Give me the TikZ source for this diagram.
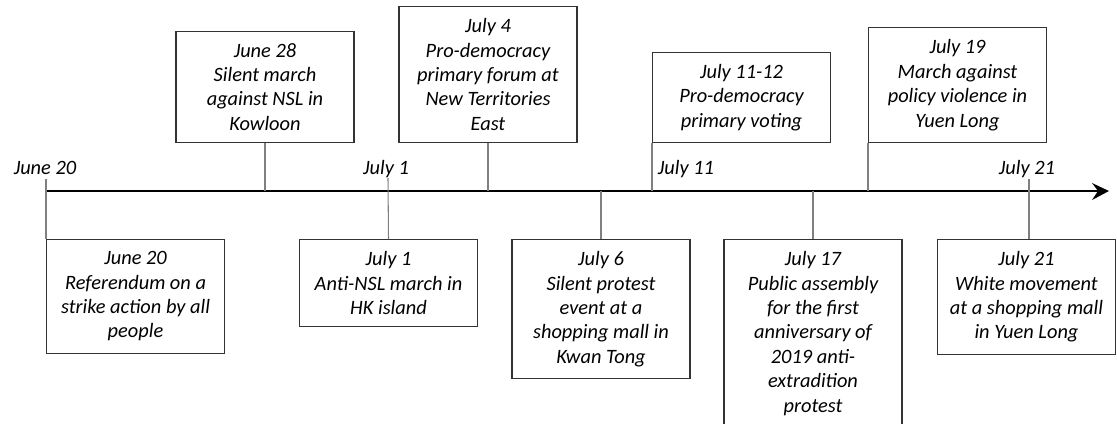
\documentclass[tikz,border=0pt]{standalone}
\usepackage{fontspec}
\setmainfont{Carlito}
\begin{document}
\begin{tikzpicture}[scale=0.2]
\tikzstyle{every node}+=[font=\fontsize{11.6}{13.9}\selectfont\itshape]
\tikzstyle{event}=[draw=black!80, line width=0.6pt, minimum width=3.56cm, align=center, inner xsep=2pt, inner ysep=6.8pt]
\tikzstyle{stem}=[black!50, line width=0.6pt]
\useasboundingbox (0,0) rectangle (111.7,-42.3);
\clip (0,0) rectangle (111.7,-42.3);
% time axis
\coordinate (axisstart) at (4.5,-19.1);
\coordinate (axisend) at (109.8,-19.1);
\draw [black, line width=1.7pt] (axisstart) -- (axisend);
\fill [black] (110.9,-19.1) -- (109.2,-18.3) -- (109.8,-19.1) -- (109.2,-20) -- cycle;
% dates on the axis
\node [anchor=base] (d0620) at (4.5,-17.4) {June 20};
\node [anchor=base] (d0701) at (38.6,-17.4) {July 1};
\node [anchor=base] (d0711) at (68.6,-17.4) {July 11};
\node [anchor=base] (d0721) at (102.7,-17.4) {July 21};
\coordinate (t0620) at (4.6,-17.9);
\coordinate (t0628) at (26.5,-19.1);
\coordinate (t0701) at (38.8,-17.8);
\coordinate (t0704) at (48.8,-19.1);
\coordinate (t0706) at (60.1,-19.1);
\coordinate (t0711) at (65.2,-19.1);
\coordinate (t0717) at (81.3,-19.1);
\coordinate (t0719) at (86.8,-19.1);
\coordinate (t0721) at (102.9,-17.9);
% events above
\node [event, anchor=south] (b0628) at (26.5,-14.3) {June 28\\Silent march\\against NSL in\\Kowloon};
\node [event, anchor=south] (b0704) at (48.8,-14.3) {July 4\\Pro-democracy\\primary forum at\\New Territories\\East};
\node [event, anchor=south west] (b0711) at (65.2,-14.3) {July 11-12\\Pro-democracy\\primary voting};
\node [event, anchor=south west] (b0719) at (86.8,-14.3) {July 19\\March against\\policy violence in\\Yuen Long};
% events below
\node [event, anchor=north west] (b0620) at (4.6,-23.9) {June 20\\Referendum on a\\strike action by all\\people};
\node [event, anchor=north] (b0701) at (38.85,-23.9) {July 1\\Anti-NSL march in\\HK island};
\node [event, anchor=north] (b0706) at (60.1,-23.9) {July 6\\Silent protest\\event at a\\shopping mall in\\Kwan Tong};
\node [event, anchor=north] (b0717) at (81.3,-23.9) {July 17\\Public assembly\\for the first\\anniversary of\\2019 anti-\\extradition\\protest};
\node [event, anchor=north] (b0721) at (102.65,-23.9) {July 21\\White movement\\at a shopping mall\\in Yuen Long};
% stems
\draw [stem] (t0628) -- (b0628.south);
\draw [stem] (t0704) -- (b0704.south);
\draw [stem] (t0711) -- (b0711.south west);
\draw [stem] (t0719) -- (b0719.south west);
\draw [stem] (t0620) -- (b0620.north west);
\draw [stem] (t0701) -- (b0701.north);
\draw [stem] (t0706) -- (b0706.north);
\draw [stem] (t0717) -- (b0717.north);
\draw [stem] (t0721) -- (t0721 |- b0721.north);
\end{tikzpicture}
\end{document}
